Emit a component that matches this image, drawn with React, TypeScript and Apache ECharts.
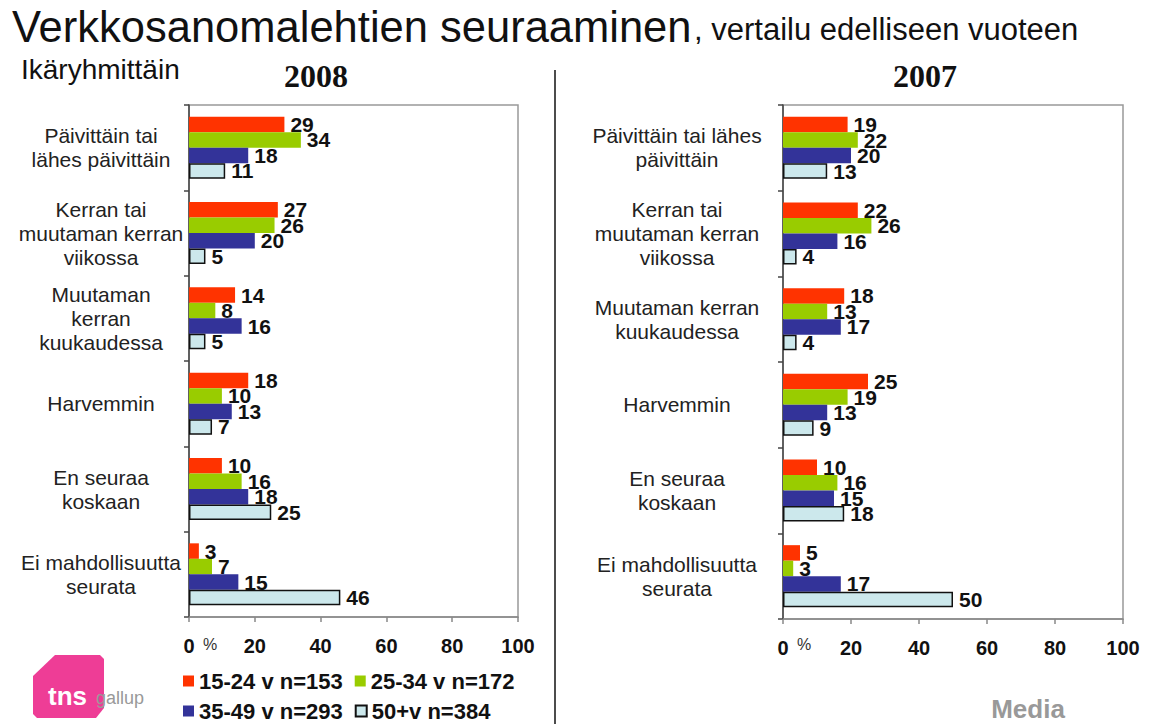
import React, { useEffect, useRef } from "react";
import * as echarts from "echarts";

const cats2008 = [
  "Päivittäin tai\nlähes päivittäin",
  "Kerran tai\nmuutaman kerran\nviikossa",
  "Muutaman\nkerran\nkuukaudessa",
  "Harvemmin",
  "En seuraa\nkoskaan",
  "Ei mahdollisuutta\nseurata",
];
const cats2007 = [
  "Päivittäin tai lähes\npäivittäin",
  "Kerran tai\nmuutaman kerran\nviikossa",
  "Muutaman kerran\nkuukaudessa",
  "Harvemmin",
  "En seuraa\nkoskaan",
  "Ei mahdollisuutta\nseurata",
];
const seriesNames = ["15-24 v n=153", "25-34 v n=172", "35-49 v n=293", "50+v n=384"];
const data2008 = [
  [29, 27, 14, 18, 10, 3],
  [34, 26, 8, 10, 16, 7],
  [18, 20, 16, 13, 18, 15],
  [11, 5, 5, 7, 25, 46],
];
const data2007 = [
  [19, 22, 18, 25, 10, 5],
  [22, 26, 13, 19, 16, 3],
  [20, 16, 17, 13, 15, 17],
  [13, 4, 4, 9, 18, 50],
];
const xTicks = [0, 20, 40, 60, 80, 100];
const colors = ["#ff3300", "#99cc00", "#333399", "#cce8ec"];

const FONT = "Liberation Sans, Arial, sans-serif";

export default function App() {
  const ref = useRef<HTMLDivElement>(null);
  useEffect(() => {
    if (!ref.current) return;
    const chart = echarts.init(ref.current, undefined, { renderer: "svg" });

    const mkSeries = (data: number[][], idx: number) =>
      data.map((vals, i) => ({
        type: "bar",
        name: seriesNames[i],
        xAxisIndex: idx,
        yAxisIndex: idx,
        data: vals,
        barWidth: 15.5,
        barGap: "0%",
        itemStyle: {
          color: colors[i],
          borderColor: i === 3 ? "#111" : undefined,
          borderWidth: i === 3 ? 1.5 : 0,
        },
        label: {
          show: true,
          position: "right",
          distance: 6,
          fontFamily: FONT,
          fontWeight: "bold",
          fontSize: 21,
          color: "#111",
        },
      }));

    const xAxisBase = (gi: number) => ({
      type: "value",
      gridIndex: gi,
      min: 0,
      max: 100,
      interval: 20,
      axisLine: { show: true, lineStyle: { color: "#888", width: 1.5 } },
      axisTick: { show: true, length: 5, lineStyle: { color: "#888", width: 1.5 } },
      splitLine: { show: false },
      axisLabel: {
        margin: 19,
        fontFamily: FONT,
        fontWeight: "bold",
        fontSize: 20,
        color: "#111",
        formatter: (v: number) => (xTicks.includes(v) ? String(v) : ""),
      },
    });

    const yAxisBase = (gi: number, cats: string[], margin: number) => ({
      type: "category",
      gridIndex: gi,
      data: cats,
      inverse: true,
      axisLine: { show: true, lineStyle: { color: "#444", width: 1.5 } },
      axisTick: { show: true, length: 5, lineStyle: { color: "#444", width: 1.5 } },
      axisLabel: {
        margin,
        align: "center",
        fontFamily: FONT,
        fontSize: 21,
        lineHeight: 24,
        color: "#222",
      },
    });

    const legendBase = (names: string[], top: number) => ({
      data: names,
      left: 183,
      top,
      itemWidth: 11,
      itemHeight: 11,
      itemGap: 12,
      icon: "rect",
      padding: 0,
      textStyle: { fontFamily: FONT, fontWeight: "bold", fontSize: 22, color: "#111" },
    });

    chart.setOption({
      animation: false,
      backgroundColor: "#ffffff",
      grid: [
        { left: 189, top: 105, width: 329, height: 512, show: true, borderColor: "#999", borderWidth: 1.5 },
        { left: 783, top: 105, width: 340, height: 514, show: true, borderColor: "#999", borderWidth: 1.5 },
      ],
      xAxis: [xAxisBase(0), xAxisBase(1)],
      yAxis: [yAxisBase(0, cats2008, 88), yAxisBase(1, cats2007, 106)],
      legend: [
        legendBase([seriesNames[0], seriesNames[1]], 670),
        legendBase([seriesNames[2], seriesNames[3]], 700),
      ],
      series: [...mkSeries(data2008, 0), ...mkSeries(data2007, 1)],
      graphic: [
        {
          type: "text",
          left: 12,
          top: 5,
          style: { text: "Verkkosanomalehtien seuraaminen", font: `43.5px ${FONT}`, fill: "#111" },
        },
        {
          type: "text",
          left: 694,
          top: 14,
          style: { text: ", vertailu edelliseen vuoteen", font: `31px ${FONT}`, fill: "#111" },
        },
        {
          type: "text",
          left: 21,
          top: 55,
          style: { text: "Ikäryhmittäin", font: `28px ${FONT}`, fill: "#111" },
        },
        {
          type: "text",
          x: 316,
          y: 76,
          style: { text: "2008", font: `bold 32px Liberation Serif, Times New Roman, serif`, fill: "#111", align: "center", verticalAlign: "middle" },
        },
        {
          type: "text",
          x: 925,
          y: 76,
          style: { text: "2007", font: `bold 32px Liberation Serif, Times New Roman, serif`, fill: "#111", align: "center", verticalAlign: "middle" },
        },
        {
          type: "text",
          x: 203,
          y: 644,
          style: { text: "%", font: `16px ${FONT}`, fill: "#333", verticalAlign: "middle" },
        },
        {
          type: "text",
          x: 797,
          y: 644,
          style: { text: "%", font: `16px ${FONT}`, fill: "#333", verticalAlign: "middle" },
        },
        {
          type: "line",
          shape: { x1: 555, y1: 70, x2: 555, y2: 724 },
          style: { stroke: "#111", lineWidth: 1.5 },
        },
        {
          type: "polygon",
          shape: {
            points: [
              [55, 655], [100, 655], [104, 659], [104, 708], [96, 718], [37, 718], [33, 714], [33, 676],
            ],
          },
          style: { fill: "#ee3d96" },
        },
        {
          type: "text",
          x: 48,
          y: 696,
          style: { text: "tns", font: `bold 26px ${FONT}`, fill: "#ffffff", verticalAlign: "middle" },
        },
        {
          type: "text",
          x: 96,
          y: 698,
          style: { text: "gallup", font: `18px ${FONT}`, fill: "#999", verticalAlign: "middle" },
        },
        {
          type: "text",
          x: 1028,
          y: 709,
          style: { text: "Media", font: `bold 26px ${FONT}`, fill: "#999", align: "center", verticalAlign: "middle" },
        },
      ],
    });
    return () => chart.dispose();
  }, []);
  return <div ref={ref} style={{ width: 1156, height: 724, position: "absolute", left: 0, top: 0 }} />;
}
